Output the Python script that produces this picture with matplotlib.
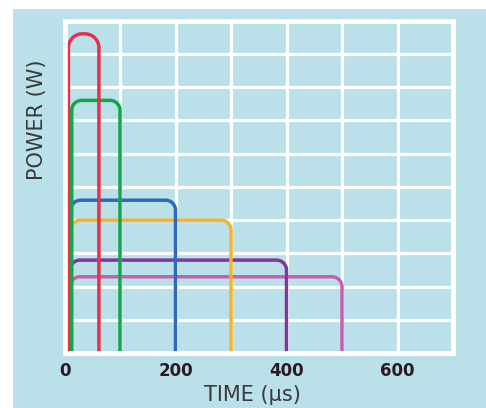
import matplotlib.pyplot as plt
import numpy as np
from matplotlib import font_manager
from matplotlib.patches import Rectangle

# === DATA
pulse_start = [7, 13, 11, 11, 10, 10]        # us
pulse_end = [62, 100, 200, 300, 400, 500]    # us
pulse_power = [9.6, 7.6, 4.6, 4.0, 2.8, 2.3]  # W (grid units)
pulse_colors = ["#e8304c", "#13a54b", "#2f68bd", "#f6b22a", "#7d3a9a", "#c85fae"]
corner_px = [14, 10, 10, 10, 10, 10]

x_ticks = [0, 200, 400, 600]
x_tick_labels = ["0", "200", "400", "600"]
x_max = 700
y_max = 10

bg = "#bae0e9"
W, H = 486, 408

# condensed face for the axis titles, if one is installed
names = {f.name for f in font_manager.fontManager.ttflist}
if "DejaVu Sans Condensed" in names:
    label_font, label_size = "DejaVu Sans Condensed", 16.3
elif "Liberation Sans Narrow" in names:
    label_font, label_size = "Liberation Sans Narrow", 17.5
else:
    label_font, label_size = "DejaVu Sans", 15

fig = plt.figure(figsize=(W / 100, H / 100), dpi=100)
fig.patch.set_facecolor("white")
fig.add_artist(Rectangle((13 / W, 0), 1, 399 / H, transform=fig.transFigure,
                         facecolor=bg, edgecolor="none", zorder=0))

# axes box in pixels
ax_l, ax_r = 64.5, 453.0
ax_t, ax_b = 20.5, 353.3
ax = fig.add_axes([ax_l / W, (H - ax_b) / H, (ax_r - ax_l) / W, (ax_b - ax_t) / H])
ax.set_facecolor(bg)
ax.set_xlim(0, x_max)
ax.set_ylim(0, y_max)

# white grid
for xv in range(100, x_max, 100):
    ax.axvline(xv, color="white", lw=2.3, zorder=1)
for yv in range(1, y_max):
    ax.axhline(yv, color="white", lw=2.3, zorder=1)
for s in ax.spines.values():
    s.set_color("white")
    s.set_linewidth(3.4)
    s.set_zorder(3)

# pixels per data unit
ppx = (ax_r - ax_l) / x_max
ppy = (ax_b - ax_t) / y_max


def pulse(x0, x1, h, r):
    rx, ry = r / ppx, r / ppy
    t1 = np.linspace(np.pi, np.pi / 2, 20)
    t2 = np.linspace(np.pi / 2, 0, 20)
    xs = np.concatenate([[x0], x0 + rx + rx * np.cos(t1),
                         x1 - rx + rx * np.cos(t2), [x1]])
    ys = np.concatenate([[0], h - ry + ry * np.sin(t1),
                         h - ry + ry * np.sin(t2), [0]])
    return xs, ys


# draw back to front, red on top
for i in reversed(range(len(pulse_end))):
    xs, ys = pulse(pulse_start[i], pulse_end[i], pulse_power[i], corner_px[i])
    ax.plot(xs, ys, color=pulse_colors[i], lw=2.5, zorder=2,
            solid_joinstyle="round", solid_capstyle="butt")

ax.set_yticks([])
ax.set_xticks(x_ticks)
ax.set_xticklabels(x_tick_labels, fontsize=12, fontweight="bold", color="#2d1a20")
ax.tick_params(axis="x", length=0, pad=6)

fig.text(252.5 / W, (H - 401) / H, "TIME (µs)", ha="center", va="baseline",
         fontsize=label_size, family=label_font, color="#3a3a3a")
fig.text(37 / W, (H - 120) / H, "POWER (W)", ha="center", va="center",
         rotation=90, fontsize=label_size, family=label_font, color="#3a3a3a")

fig.savefig("out.png", dpi=100)
